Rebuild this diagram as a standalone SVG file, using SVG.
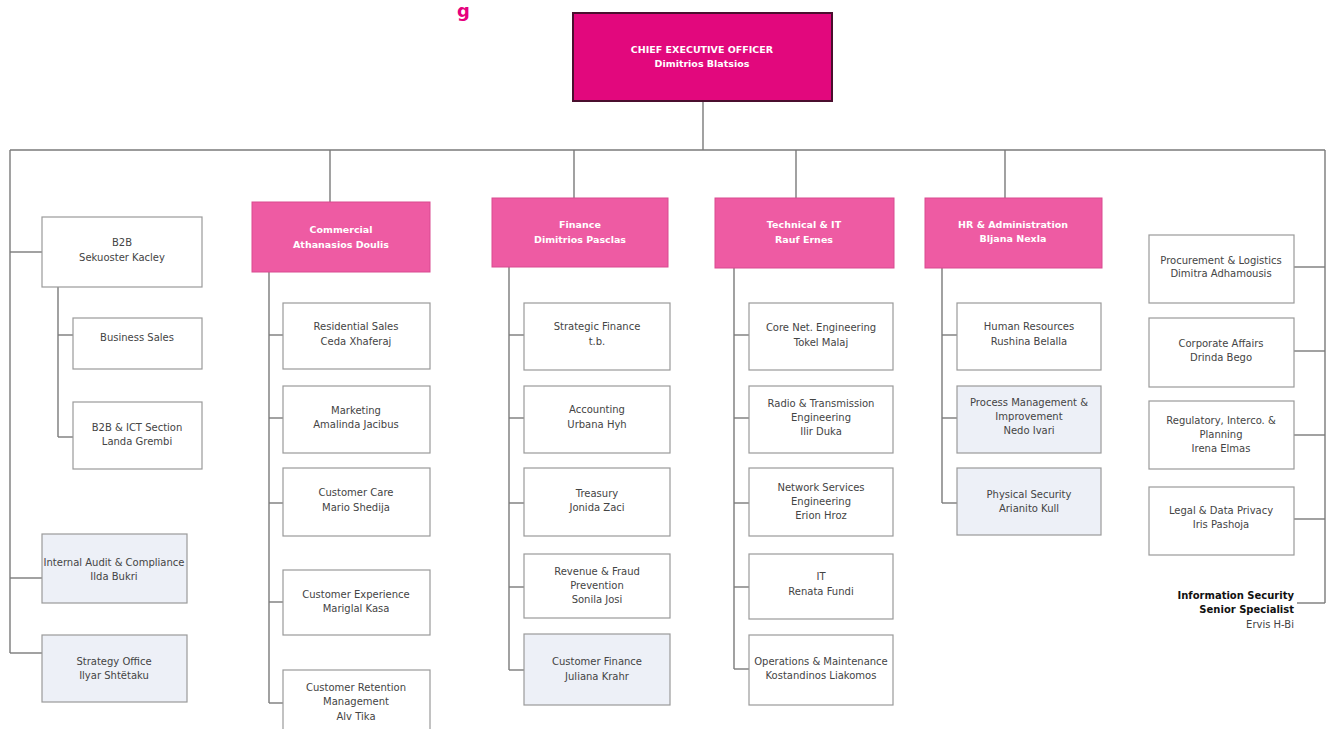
<svg xmlns="http://www.w3.org/2000/svg" width="1329" height="729" viewBox="0 0 1329 729">
<style>
.bx{fill:#fff;stroke:#9a9a9a;stroke-width:1.2}
.lt{fill:#edf0f7;stroke:#9a9a9a;stroke-width:1.2}
.hd{fill:#ee5ba3;stroke:#d94a90;stroke-width:1}
.ceo{fill:#e2087d;stroke:#4a0f2e;stroke-width:2}
text{font-family:"DejaVu Sans",Verdana,sans-serif;font-size:10px;fill:#444;text-anchor:middle}
.w{fill:#fff;font-weight:bold;font-size:9.5px}
.b{fill:#111;font-weight:bold;text-anchor:end}
.r{text-anchor:end;fill:#444}
#conn line{stroke:#7a7a7a;stroke-width:1.4}
</style>
<rect width="1329" height="729" fill="#fff"/>
<text x="457" y="17" style="font-size:18px;font-weight:bold;fill:#e6007e;text-anchor:start">g</text>
<g id="conn">
<line x1="703" y1="101" x2="703" y2="150"/>
<line x1="10" y1="150" x2="1325" y2="150"/>
<line x1="330" y1="150" x2="330" y2="202"/>
<line x1="574" y1="150" x2="574" y2="198"/>
<line x1="796" y1="150" x2="796" y2="198"/>
<line x1="1005" y1="150" x2="1005" y2="198"/>
<line x1="10" y1="150" x2="10" y2="653"/>
<line x1="10" y1="252" x2="42" y2="252"/>
<line x1="10" y1="578" x2="42" y2="578"/>
<line x1="10" y1="653" x2="42" y2="653"/>
<line x1="58" y1="287" x2="58" y2="437"/>
<line x1="58" y1="335" x2="73" y2="335"/>
<line x1="58" y1="437" x2="73" y2="437"/>
<line x1="269" y1="272" x2="269" y2="703"/>
<line x1="269" y1="335" x2="283" y2="335"/>
<line x1="269" y1="418" x2="283" y2="418"/>
<line x1="269" y1="503" x2="283" y2="503"/>
<line x1="269" y1="602" x2="283" y2="602"/>
<line x1="269" y1="703" x2="283" y2="703"/>
<line x1="509" y1="267" x2="509" y2="670"/>
<line x1="509" y1="335" x2="524" y2="335"/>
<line x1="509" y1="418" x2="524" y2="418"/>
<line x1="509" y1="503" x2="524" y2="503"/>
<line x1="509" y1="587" x2="524" y2="587"/>
<line x1="509" y1="670" x2="524" y2="670"/>
<line x1="734" y1="268" x2="734" y2="669"/>
<line x1="734" y1="335" x2="749" y2="335"/>
<line x1="734" y1="418" x2="749" y2="418"/>
<line x1="734" y1="503" x2="749" y2="503"/>
<line x1="734" y1="587" x2="749" y2="587"/>
<line x1="734" y1="669" x2="749" y2="669"/>
<line x1="942" y1="268" x2="942" y2="503"/>
<line x1="942" y1="335" x2="957" y2="335"/>
<line x1="942" y1="418" x2="957" y2="418"/>
<line x1="942" y1="503" x2="957" y2="503"/>
<line x1="1325" y1="150" x2="1325" y2="603"/>
<line x1="1294" y1="267" x2="1325" y2="267"/>
<line x1="1294" y1="351" x2="1325" y2="351"/>
<line x1="1294" y1="435" x2="1325" y2="435"/>
<line x1="1294" y1="519" x2="1325" y2="519"/>
<line x1="1297" y1="603" x2="1325" y2="603"/>
</g>
<g id="ceo"><rect class="ceo" x="573" y="13" width="259" height="88"/><text class="w" x="702" y="53">CHIEF EXECUTIVE OFFICER</text><text class="w" x="702" y="67">Dimitrios Blatsios</text></g>
<g id="b2b"><rect class="bx" x="42" y="217" width="160" height="70"/><text x="122" y="246">B2B</text><text x="122" y="261">Sekuoster Kacley</text></g>
<g id="business-sales"><rect class="bx" x="73" y="318" width="129" height="51"/><text x="137" y="341">Business Sales</text></g>
<g id="b2b-ict"><rect class="bx" x="73" y="402" width="129" height="67"/><text x="137" y="431">B2B &amp; ICT Section</text><text x="137" y="445">Landa Grembi</text></g>
<g id="internal-audit"><rect class="lt" x="42" y="534" width="145" height="69"/><text x="114" y="566">Internal Audit &amp; Compliance</text><text x="114" y="580">Ilda Bukri</text></g>
<g id="strategy"><rect class="lt" x="42" y="635" width="145" height="67"/><text x="114" y="665">Strategy Office</text><text x="114" y="679">Ilyar Shtëtaku</text></g>
<g id="commercial"><rect class="hd" x="252" y="202" width="178" height="70"/><text class="w" x="341" y="233">Commercial</text><text class="w" x="341" y="248">Athanasios Doulis</text></g>
<g id="residential"><rect class="bx" x="283" y="303" width="147" height="66"/><text x="356" y="330">Residential Sales</text><text x="356" y="345">Ceda Xhaferaj</text></g>
<g id="marketing"><rect class="bx" x="283" y="386" width="147" height="67"/><text x="356" y="414">Marketing</text><text x="356" y="428">Amalinda Jacibus</text></g>
<g id="customer-care"><rect class="bx" x="283" y="468" width="147" height="68"/><text x="356" y="496">Customer Care</text><text x="356" y="511">Mario Shedija</text></g>
<g id="customer-experience"><rect class="bx" x="283" y="570" width="147" height="65"/><text x="356" y="598">Customer Experience</text><text x="356" y="612">Mariglal Kasa</text></g>
<g id="customer-retention"><rect class="bx" x="283" y="670" width="147" height="70"/><text x="356" y="691">Customer Retention</text><text x="356" y="705">Management</text><text x="356" y="720">Alv Tika</text></g>
<g id="finance"><rect class="hd" x="492" y="198" width="176" height="69"/><text class="w" x="580" y="228">Finance</text><text class="w" x="580" y="243">Dimitrios Pasclas</text></g>
<g id="strategic-finance"><rect class="bx" x="524" y="303" width="146" height="67"/><text x="597" y="330">Strategic Finance</text><text x="597" y="345">t.b.</text></g>
<g id="accounting"><rect class="bx" x="524" y="386" width="146" height="67"/><text x="597" y="413">Accounting</text><text x="597" y="428">Urbana Hyh</text></g>
<g id="treasury"><rect class="bx" x="524" y="468" width="146" height="68"/><text x="597" y="497">Treasury</text><text x="597" y="511">Jonida Zaci</text></g>
<g id="revenue"><rect class="bx" x="524" y="554" width="146" height="64"/><text x="597" y="575">Revenue &amp; Fraud</text><text x="597" y="589">Prevention</text><text x="597" y="603">Sonila Josi</text></g>
<g id="customer-finance"><rect class="lt" x="524" y="634" width="146" height="71"/><text x="597" y="665">Customer Finance</text><text x="597" y="680">Juliana Krahr</text></g>
<g id="technical"><rect class="hd" x="715" y="198" width="179" height="70"/><text class="w" x="804" y="228">Technical &amp; IT</text><text class="w" x="804" y="243">Rauf Ernes</text></g>
<g id="core-net"><rect class="bx" x="749" y="303" width="144" height="67"/><text x="821" y="331">Core Net. Engineering</text><text x="821" y="346">Tokel Malaj</text></g>
<g id="radio"><rect class="bx" x="749" y="386" width="144" height="67"/><text x="821" y="407">Radio &amp; Transmission</text><text x="821" y="421">Engineering</text><text x="821" y="435">Ilir Duka</text></g>
<g id="network"><rect class="bx" x="749" y="468" width="144" height="68"/><text x="821" y="491">Network Services</text><text x="821" y="505">Engineering</text><text x="821" y="519">Erion Hroz</text></g>
<g id="it"><rect class="bx" x="749" y="554" width="144" height="65"/><text x="821" y="580">IT</text><text x="821" y="595">Renata Fundi</text></g>
<g id="operations"><rect class="bx" x="749" y="635" width="144" height="70"/><text x="821" y="665">Operations &amp; Maintenance</text><text x="821" y="679">Kostandinos Liakomos</text></g>
<g id="hr"><rect class="hd" x="925" y="198" width="177" height="70"/><text class="w" x="1013" y="228">HR &amp; Administration</text><text class="w" x="1013" y="242">Bljana Nexla</text></g>
<g id="human-resources"><rect class="bx" x="957" y="303" width="144" height="67"/><text x="1029" y="330">Human Resources</text><text x="1029" y="345">Rushina Belalla</text></g>
<g id="process"><rect class="lt" x="957" y="386" width="144" height="67"/><text x="1029" y="406">Process Management &amp;</text><text x="1029" y="420">Improvement</text><text x="1029" y="434">Nedo Ivari</text></g>
<g id="physical-security"><rect class="lt" x="957" y="468" width="144" height="67"/><text x="1029" y="498">Physical Security</text><text x="1029" y="512">Arianito Kull</text></g>
<g id="procurement"><rect class="bx" x="1149" y="235" width="145" height="68"/><text x="1221" y="264">Procurement &amp; Logistics</text><text x="1221" y="277">Dimitra Adhamousis</text></g>
<g id="corporate"><rect class="bx" x="1149" y="318" width="145" height="69"/><text x="1221" y="347">Corporate Affairs</text><text x="1221" y="361">Drinda Bego</text></g>
<g id="regulatory"><rect class="bx" x="1149" y="401" width="145" height="68"/><text x="1221" y="424">Regulatory, Interco. &amp;</text><text x="1221" y="438">Planning</text><text x="1221" y="452">Irena Elmas</text></g>
<g id="legal"><rect class="bx" x="1149" y="487" width="145" height="68"/><text x="1221" y="514">Legal &amp; Data Privacy</text><text x="1221" y="528">Iris Pashoja</text></g>
<g id="infosec"><text class="b" x="1294" y="599">Information Security</text><text class="b" x="1294" y="613">Senior Specialist</text><text class="r" x="1294" y="628">Ervis H-Bi</text></g>
</svg>
